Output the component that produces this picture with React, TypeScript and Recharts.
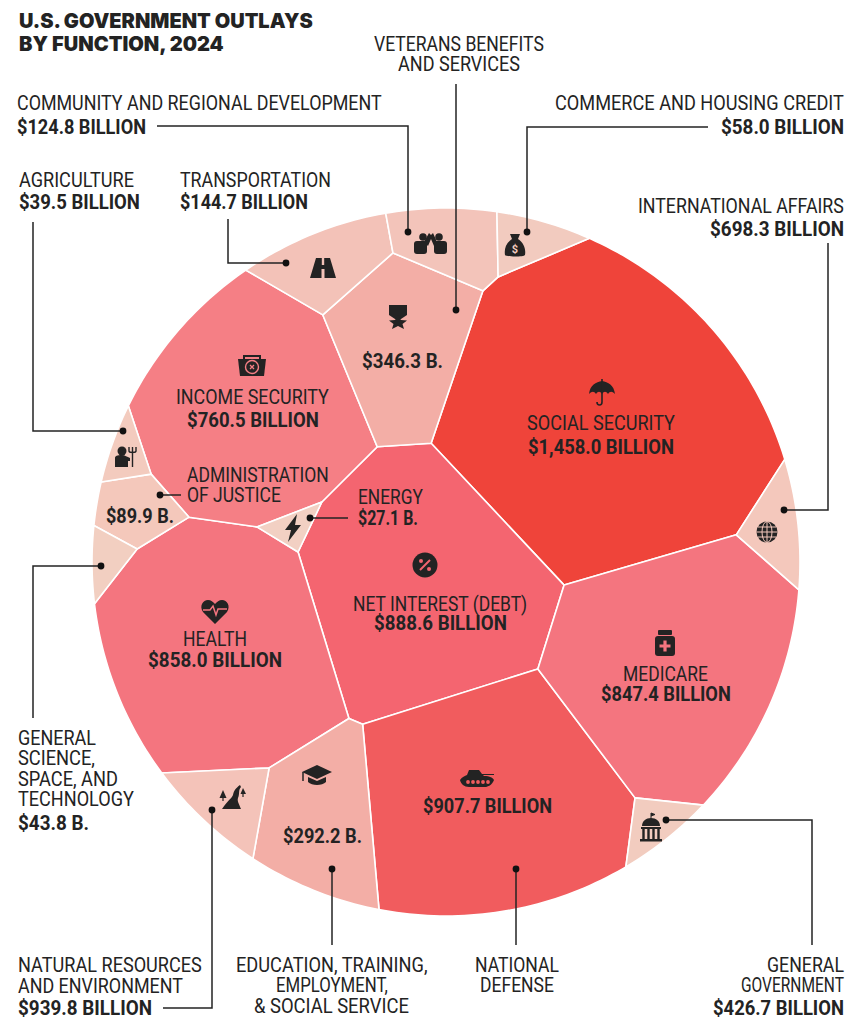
import React from 'react';
import { ScatterChart, Scatter, XAxis, YAxis } from 'recharts';

const categories = [
  'Social Security', 'Net Interest (Debt)', 'National Defense', 'Health', 'Medicare', 'Income Security',
  'International Affairs', 'General Government', 'Veterans Benefits and Services',
  'Education, Training, Employment, & Social Service', 'Transportation', 'Community and Regional Development',
  'Commerce and Housing Credit', 'Natural Resources and Environment', 'Administration of Justice',
  'General Science, Space, and Technology', 'Agriculture', 'Energy',
];
const outlays = [1458.0, 888.6, 907.7, 858.0, 847.4, 760.5, 698.3, 426.7, 346.3, 292.2, 144.7, 124.8, 58.0, 939.8, 89.9, 43.8, 39.5, 27.1];

// layout of the cells: seed of each power-diagram cell, relative to the circle centre, plus its offset
const seedX = [146.1, -28.8, 38.0, -227.1, 216.4, -194.7, 326.2, 199.9, -44.0, -124.9, -113.0, -2.6, 76.6, -220.2, -306.0, -331.8, -315.2, -153.8];
const seedY = [-143.5, 20.4, 231.7, 81.0, 97.2, -145.9, -27.8, 253.2, -208.1, 246.1, -286.2, -306.4, -307.9, 229.1, -47.9, -0.5, -105.7, -39.1];
const seedH = [-51314, -85058, -27587, -27598, -23583, -23915, 46956, 43766, -30308, 4244, 25284, 26061, 35176, 30957, 24504, 39205, 40092, -46882];
const fills = ['#EF443A', '#F46570', '#F15C5E', '#F4757F', '#F4757F', '#F57F85', '#F4C8BC', '#F2CCBF', '#F3AEA6', '#F3AEA6', '#F3C2B8', '#F3C4BA', '#F2CBBF', '#F4C3B9', '#F4C8BB', '#F2CFC1', '#F3CBBE', '#F2D0C3'];

const CX = 446;
const CY = 562;
const RADIUS = 354;
const INK = '#232323';

const cells = categories.map((name, i) => ({ name, value: outlays[i], index: i, x: CX + seedX[i], y: CY + seedY[i] }));

// circle clipped by one half-plane per neighbour
function cellPolygon(i: number) {
  let poly: number[][] = [];
  for (let k = 0; k < 360; k++) {
    const t = (k / 360) * 2 * Math.PI;
    poly.push([RADIUS * Math.cos(t), RADIUS * Math.sin(t)]);
  }
  categories.forEach((_, j) => {
    if (j === i) return;
    const a = 2 * (seedX[i] - seedX[j]);
    const b = 2 * (seedY[i] - seedY[j]);
    const c = seedH[i] - seedH[j];
    const out: number[][] = [];
    poly.forEach((P, k) => {
      const Q = poly[(k + 1) % poly.length];
      const fp = a * P[0] + b * P[1] - c;
      const fq = a * Q[0] + b * Q[1] - c;
      if (fp >= 0) out.push(P);
      if (fp * fq < 0) {
        const t = fp / (fp - fq);
        out.push([P[0] + t * (Q[0] - P[0]), P[1] + t * (Q[1] - P[1])]);
      }
    });
    poly = out;
  });
  return poly;
}

function VoronoiCell(props: any) {
  const { cx, cy, payload } = props;
  const i = payload.index;
  const ox = cx - seedX[i];
  const oy = cy - seedY[i];
  const points = cellPolygon(i).map((p) => `${p[0] + ox},${p[1] + oy}`).join(' ');
  return <polygon points={points} fill={fills[i]} stroke="#fff" strokeWidth={1.6} strokeLinejoin="round" />;
}

const money = (v: number) => '$' + v.toLocaleString('en-US', { minimumFractionDigits: 1, maximumFractionDigits: 1 });
const billion = (i: number) => `${money(outlays[i])} BILLION`;
const short = (i: number) => `${money(outlays[i])} B.`;

// text, left, right, baseline, bold
const labels: [string, number, number, number, boolean][] = [
  ['VETERANS BENEFITS', 374, 544, 51, false],
  ['AND SERVICES', 398, 520, 71, false],
  ['COMMUNITY AND REGIONAL DEVELOPMENT', 17, 382, 110, false],
  [billion(11), 17, 146, 134, true],
  ['COMMERCE AND HOUSING CREDIT', 555, 844, 110, false],
  [billion(12), 721, 844, 134, true],
  ['AGRICULTURE', 19, 134, 187, false],
  [billion(16), 19, 140, 209, true],
  ['TRANSPORTATION', 180, 331, 187, false],
  [billion(10), 180, 308, 209, true],
  ['INTERNATIONAL AFFAIRS', 638, 844, 213, false],
  [billion(6), 710, 844, 236, true],
  [short(8), 362, 443, 368, true],
  ['INCOME SECURITY', 176, 329, 404, false],
  [billion(5), 187, 319, 427, true],
  ['ADMINISTRATION', 187, 329, 482, false],
  ['OF JUSTICE', 187, 281, 502, false],
  [short(14), 106, 174, 523, true],
  ['ENERGY', 358, 423, 504, false],
  [short(17), 358, 418, 525, true],
  ['SOCIAL SECURITY', 527, 675, 430, false],
  [billion(0), 528, 674, 454, true],
  ['NET INTEREST (DEBT)', 353, 528, 611, false],
  [billion(1), 374, 507, 630, true],
  ['HEALTH', 183, 247, 646, false],
  [billion(3), 148, 282, 667, true],
  ['MEDICARE', 623, 708, 681, false],
  [billion(4), 601, 731, 701, true],
  [billion(2), 423, 552, 813, true],
  [short(9), 283, 362, 843, true],
  ['GENERAL', 18, 96, 745, false],
  ['SCIENCE,', 18, 95, 765, false],
  ['SPACE, AND', 18, 118, 786, false],
  ['TECHNOLOGY', 18, 134, 806, false],
  [short(15), 18, 89, 830, true],
  ['NATURAL RESOURCES', 18, 202, 972, false],
  ['AND ENVIRONMENT', 18, 183, 993, false],
  [billion(13), 18, 152, 1015, true],
  ['EDUCATION, TRAINING,', 236, 428, 972, false],
  ['EMPLOYMENT,', 276, 388, 992, false],
  ['& SOCIAL SERVICE', 254, 409, 1013, false],
  ['NATIONAL', 475, 559, 972, false],
  ['DEFENSE', 480, 554, 992, false],
  ['GENERAL', 767, 844, 972, false],
  ['GOVERNMENT', 741, 844, 992, false],
  [billion(7), 713, 844, 1015, true],
];

// leader lines, the last point carries the dot
const leaders: number[][][] = [
  [[157, 126], [408, 126], [408, 232]],
  [[456, 84], [456, 310]],
  [[708, 127], [527, 127], [527, 232]],
  [[828, 243], [828, 510], [784, 510]],
  [[228, 219], [228, 263], [286, 263]],
  [[33, 222], [33, 431], [123, 431]],
  [[181, 495], [160, 495]],
  [[348, 518], [310, 518]],
  [[33, 718], [33, 566], [101, 566]],
  [[163, 1008], [212, 1008], [212, 810]],
  [[332, 945], [332, 869]],
  [[516, 945], [516, 869]],
  [[812, 945], [812, 820], [666, 820]],
];

const measure = document.createElement('canvas').getContext('2d') as CanvasRenderingContext2D;

// squeezes a real text line horizontally so it spans x0..x1, the source face is condensed
function FitText({ text, x0, x1, y, family, weight, size }: any) {
  measure.font = `${weight} ${size}px ${family}`;
  const sx = (x1 - x0) / measure.measureText(text).width;
  return (
    <text transform={`translate(${x0} ${y}) scale(${sx} 1)`} fontFamily={family} fontWeight={weight} fontSize={size} fill={INK}>
      {text}
    </text>
  );
}

const Umbrella = () => (
  <g>
    <path d="M-13 3C-12-6-6-9 0-10C6-9 12-6 13 3C10 0 8 0 6 3C4 0 2 0 0 3C-2 0-4 0-6 3C-8 0-10 0-13 3Z" />
    <path d="M0-12V11C0 15-5 15-5 11" fill="none" stroke={INK} strokeWidth={1.6} />
  </g>
);
const Percent = () => (
  <g>
    <circle r={12.5} />
    <path d="M5-5L-5 5" stroke="#F46570" strokeWidth={2} />
    <circle cx={-4} cy={-4} r={2} fill="#F46570" />
    <circle cx={4} cy={4} r={2} fill="#F46570" />
  </g>
);
const Kit = () => (
  <g>
    <path d="M-14-7H14L12 10H-12Z" />
    <path d="M-8-7V-10H8V-7" fill="none" stroke={INK} strokeWidth={2} />
    <circle cy={1} r={6.5} fill="none" stroke="#F57F85" strokeWidth={1.4} />
    <path d="M-2-1L2 3M2-1L-2 3" stroke="#F57F85" strokeWidth={1.3} />
  </g>
);
const Medal = () => (
  <g>
    <path d="M-9-10H9V0L3 4H-3L-9 0Z" />
    <path d="M0 0L3 5L9 5.5L4.5 9L6 14L0 11L-6 14L-4.5 9L-9 5.5L-3 5Z" />
  </g>
);
const Road = () => (
  <path d="M-7-10H-1.2V-3H1.2V-10H7L13 10H1.5V1H-1.5V10H-13Z" />
);
const People = () => (
  <g>
    <circle cx={-8} cy={-7} r={3.8} />
    <circle cx={8} cy={-7} r={3.8} />
    <rect x={-17} y={-3} width={13} height={13} rx={3} />
    <rect x={3} y={-3} width={13} height={13} rx={3} />
    <path d="M-7-2L-2-11L0-9L2-11L6-2L3 2L0-5L-3 2Z" />
  </g>
);
const Bag = () => (
  <g>
    <path d="M-5-12L5-12L3-7C9-3 11 3 10 9C9 11-9 11-10 9C-11 3-9-3-3-7Z" />
    <text y={7} textAnchor="middle" fontFamily="Roboto" fontWeight={700} fontSize={11} fill="#F2CBBF">$</text>
  </g>
);
const Globe = () => (
  <g fill="none" stroke={INK} strokeWidth={1.6}>
    <circle r={10.5} fill={INK} stroke="none" />
    <ellipse rx={5} ry={10.5} stroke="#F4C8BC" strokeWidth={1} />
    <path d="M-10.5 0H10.5M0-10.5V10.5M-9-5H9M-9 5H9" stroke="#F4C8BC" strokeWidth={1} />
  </g>
);
const Bottle = () => (
  <g>
    <rect x={-7} y={-13} width={14} height={5} rx={1} />
    <rect x={-10} y={-7} width={20} height={20} rx={3} />
    <path d="M-5.5 3H5.5M0-2.5V8.5" stroke="#F4757F" strokeWidth={3.2} />
  </g>
);
const Capitol = () => (
  <g>
    <path d="M0-15V-10M0-15L4-13.5L0-12" stroke={INK} strokeWidth={1} />
    <path d="M-9-2C-9-7-5-10 0-10C5-10 9-7 9-2Z" />
    <rect x={-10} y={-1} width={20} height={2} />
    <path d="M-7.5 1V11M-2.5 1V11M2.5 1V11M7.5 1V11" stroke={INK} strokeWidth={2.4} />
    <rect x={-11} y={11} width={22} height={2.5} />
  </g>
);
const Tank = () => (
  <g>
    <path d="M-8-9H2L5-5H17V-4H6L7-3C13-3 16-1 17 1C15 6 11 8 8 8H-8C-13 8-16 5-17 1C-15-2-12-3-10-4Z" />
    <g fill="#F15C5E">
      <circle cx={-9} cy={3} r={1.9} />
      <circle cx={-4} cy={3} r={1.9} />
      <circle cx={1} cy={3} r={1.9} />
      <circle cx={6} cy={3} r={1.9} />
      <circle cx={11} cy={3} r={1.9} />
    </g>
  </g>
);
const Cap = () => (
  <g>
    <path d="M0-10L15-3L0 4L-15-3Z" />
    <path d="M-9 2L0 6L9 2V7C5 11-5 11-9 7Z" />
    <path d="M-14-3V6" stroke={INK} strokeWidth={1.5} />
  </g>
);
const Heart = () => (
  <g>
    <path d="M0 13L-12 1C-16-5-12-11-7-11C-4-11-2-9 0-7C2-9 4-11 7-11C12-11 16-5 12 1Z" />
    <path d="M-12-1H-5L-2-5L1 4L3-2H12" fill="none" stroke="#F4757F" strokeWidth={1.5} />
  </g>
);
const Bolt = () => (
  <path d="M4-14L-8 2H-2L-5 14L8-3H2Z" />
);
const Farmer = () => (
  <g>
    <circle cx={-3} cy={-5} r={4.5} />
    <path d="M-10 11V2C-10 0-8-1-3-1C0-1 2 1 5 2V5L3 5V11Z" />
    <path d="M4-9V-5C4-3 11-3 11-5V-9M7.5-9V11" fill="none" stroke={INK} strokeWidth={1.4} />
  </g>
);
const Nature = () => (
  <g>
    <path d="M-10 13C-4 4 0 2 1-1C2-6 4-8 8-11L9-9C6-6 8-2 6 2C5 5 7 8 9 13Z" />
    <path d="M-9-6L-5.5 2H-12.5Z" />
    <path d="M-9 2V5" stroke={INK} strokeWidth={1.2} />
    <path d="M11-8L14-2H8.5Z" />
    <path d="M11-2V1" stroke={INK} strokeWidth={1.2} />
  </g>
);

const icons: [React.FC, number, number][] = [
  [Umbrella, 602, 391],
  [Percent, 425, 565],
  [Kit, 252, 366],
  [Medal, 398, 315],
  [Road, 323, 268],
  [People, 431, 244],
  [Bag, 515, 246],
  [Globe, 767, 532],
  [Bottle, 665, 643],
  [Capitol, 651, 828],
  [Tank, 477, 779],
  [Cap, 317, 775],
  [Heart, 215, 611],
  [Bolt, 293, 528],
  [Farmer, 125, 456],
  [Nature, 232, 796],
];

export default function App() {
  return (
    <div style={{ position: 'absolute', left: 0, top: 0, width: 857, height: 1024, background: '#fff' }}>
      <ScatterChart width={857} height={1024} margin={{ top: 0, right: 0, bottom: 0, left: 0 }}>
        <XAxis type="number" dataKey="x" domain={[0, 857]} hide />
        <YAxis type="number" dataKey="y" domain={[0, 1024]} reversed hide />
        <Scatter data={cells} shape={VoronoiCell} isAnimationActive={false} />
      </ScatterChart>
      <svg width={857} height={1024} style={{ position: 'absolute', left: 0, top: 0 }}>
        <FitText text="U.S. GOVERNMENT OUTLAYS" x0={19} x1={314} y={28} family="Inter" weight={900} size={20} />
        <FitText text="BY FUNCTION, 2024" x0={19} x1={225} y={51} family="Inter" weight={900} size={20} />
        {labels.map(([t, x0, x1, y, bold], i) => (
          <FitText key={i} text={t} x0={x0} x1={x1} y={y} family="Roboto" weight={bold ? 700 : 400} size={20.5} />
        ))}
        {leaders.map((pts, i) => {
          const end = pts[pts.length - 1];
          return (
            <g key={i}>
              <polyline points={pts.map((p) => p.join(',')).join(' ')} fill="none" stroke={INK} strokeWidth={1.5} />
              <circle cx={end[0]} cy={end[1]} r={3.4} fill="#111" />
            </g>
          );
        })}
        {icons.map(([Icon, x, y], i) => (
          <g key={i} transform={`translate(${x} ${y})`} fill={INK}>
            <Icon />
          </g>
        ))}
      </svg>
    </div>
  );
}
